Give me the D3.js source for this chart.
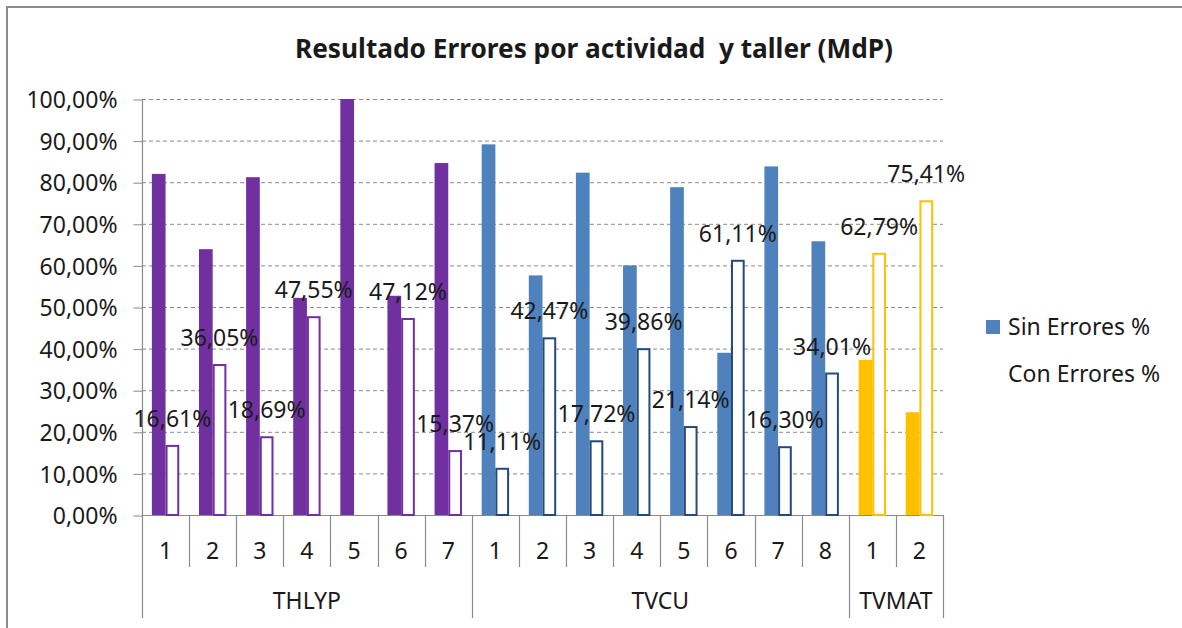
<!DOCTYPE html>
<html>
<head>
<meta charset="utf-8">
<script src="https://cdn.jsdelivr.net/npm/d3@7"></script>
<style>
  html, body { margin: 0; padding: 0; background: #fff; }
  svg { display: block; }
  text { font-family: "Noto Sans", "Open Sans", sans-serif; fill: #1a1a1a; }
</style>
</head>
<body>
<svg id="chart" width="1182" height="628"></svg>
<script>
// ---- Data ----
const groups = ["THLYP", "TVCU", "TVMAT"];
const activities = [
  ["1","2","3","4","5","6","7"],
  ["1","2","3","4","5","6","7","8"],
  ["1","2"]
];
const sinErrores = [
  [82.0, 63.9, 81.2, 52.2, 100.0, 52.7, 84.6],
  [89.1, 57.6, 82.3, 60.0, 78.8, 39.0, 83.8, 65.8],
  [37.3, 24.7]
];
const conErrores = [
  [16.61, 36.05, 18.69, 47.55, null, 47.12, 15.37],
  [11.11, 42.47, 17.72, 39.86, 21.14, 61.11, 16.30, 34.01],
  [62.79, 75.41]
];
const groupFill = ["#7030A0", "#4F81BD", "#FFC000"];
const groupStroke = ["#7030A0", "#244A7C", "#FFC000"];
const yTicks = [0,10,20,30,40,50,60,70,80,90,100];
const seriesNames = ["Sin Errores %", "Con Errores %"];
const title = "Resultado Errores por actividad  y taller (MdP)";

(function () {
// ---- Layout ----
const svg = d3.select("#chart");
const pLeft = 142, pRight = 943, pTop = 99, pBottom = 515;
const axisColor = "#8a8a8a";
const fs = "23px";

// flatten rows
const rows = [];
groups.forEach((g, gi) => {
  activities[gi].forEach((a, ai) => {
    rows.push({key: g + "-" + a, group: g, gi, act: a,
      sin: sinErrores[gi][ai], con: conErrores[gi][ai]});
  });
});

const x0 = d3.scaleBand().domain(rows.map(r => r.key)).range([pLeft, pRight]).paddingInner(0).paddingOuter(0);
const x1 = d3.scaleBand().domain(["sin","con"]).range([0, x0.bandwidth()]).paddingInner(0).paddingOuter(0.72);
const y = d3.scaleLinear().domain([0, 100]).range([pBottom, pTop]);

const fmt = v => d3.format(".2f")(v).replace(".", ",") + "%";

// chart border
svg.append("path")
  .attr("d", `M7,640 L7,7 L1200,7`)
  .attr("fill", "none").attr("stroke", "#8c8c8c").attr("stroke-width", 2);

// title
svg.append("text")
  .attr("x", 594).attr("y", 58)
  .attr("text-anchor", "middle")
  .style("font-size", "26px").style("font-weight", "bold")
  .style("white-space", "pre")
  .attr("textLength", 598).attr("lengthAdjust", "spacingAndGlyphs")
  .text(title);

// gridlines
svg.append("g").selectAll("line")
  .data(yTicks.filter(t => t > 0))
  .join("line")
  .attr("x1", pLeft).attr("x2", pRight)
  .attr("y1", d => y(d) + 0.5).attr("y2", d => y(d) + 0.5)
  .attr("stroke", "#8a8a8a").attr("stroke-width", 1)
  .attr("stroke-dasharray", "4,3");

// y axis
const yAxis = d3.axisLeft(y).tickValues(yTicks).tickSize(9).tickPadding(16)
  .tickFormat(d => fmt(d));
const gy = svg.append("g").attr("transform", `translate(${pLeft + 0.5},0.5)`).call(yAxis);
gy.select(".domain").remove();
gy.selectAll(".tick line").attr("stroke", axisColor);
gy.selectAll(".tick text").style("font-size", fs).attr("fill", "#1a1a1a")
  .attr("dy", "0.36em");
gy.attr("font-family", null).attr("font-size", null);

// vertical axis line extended down through category area
svg.append("line").attr("x1", pLeft + 0.5).attr("x2", pLeft + 0.5)
  .attr("y1", pTop).attr("y2", 618).attr("stroke", axisColor).attr("stroke-width", 1.2);

// x axis baseline
svg.append("line").attr("x1", pLeft).attr("x2", pRight)
  .attr("y1", pBottom + 0.5).attr("y2", pBottom + 0.5)
  .attr("stroke", axisColor).attr("stroke-width", 1.2);

// bars: Sin
const bars = svg.append("g");
bars.selectAll("rect.sin")
  .data(rows)
  .join("rect").attr("class", "sin")
  .attr("x", d => x0(d.key) + x1("sin"))
  .attr("width", x1.bandwidth())
  .attr("y", d => y(d.sin))
  .attr("height", d => y(0) - y(d.sin))
  .attr("fill", d => groupFill[d.gi]);

// bars: Con (outlined)
const conRows = rows.filter(d => d.con != null);
bars.selectAll("rect.con")
  .data(conRows)
  .join("rect").attr("class", "con")
  .attr("x", d => x0(d.key) + x1("con") + 1)
  .attr("width", x1.bandwidth() - 2)
  .attr("y", d => y(d.con))
  .attr("height", d => y(0) - y(d.con))
  .attr("fill", "#fff")
  .attr("stroke", d => groupStroke[d.gi])
  .attr("stroke-width", 2);

// data labels
svg.append("g").selectAll("text")
  .data(conRows)
  .join("text")
  .attr("x", d => x0(d.key) + x1("con") + x1.bandwidth() / 2)
  .attr("y", d => y(d.con) - 19)
  .attr("text-anchor", "middle")
  .style("font-size", fs)
  .text(d => fmt(d.con));

// category ticks and labels
const gx = svg.append("g");
const boundaries = [];
rows.forEach((r, i) => {
  if (i === 0) return;
  const isGroupStart = rows[i - 1].group !== r.group;
  boundaries.push({x: x0(r.key), long: isGroupStart});
});
boundaries.push({x: pRight, long: true});
gx.selectAll("line")
  .data(boundaries)
  .join("line")
  .attr("x1", d => Math.round(d.x) + 0.5).attr("x2", d => Math.round(d.x) + 0.5)
  .attr("y1", pBottom).attr("y2", d => d.long ? 618 : 567)
  .attr("stroke", axisColor).attr("stroke-width", 1.2);

gx.selectAll("text.cat")
  .data(rows)
  .join("text").attr("class", "cat")
  .attr("x", d => x0(d.key) + x0.bandwidth() / 2)
  .attr("y", 559)
  .attr("text-anchor", "middle")
  .style("font-size", fs)
  .text(d => d.act);

// group labels
gx.selectAll("text.grp")
  .data(groups)
  .join("text").attr("class", "grp")
  .attr("x", (g, gi) => {
    const ks = rows.filter(r => r.gi === gi);
    const a = x0(ks[0].key), b = x0(ks[ks.length - 1].key) + x0.bandwidth();
    return (a + b) / 2;
  })
  .attr("y", 609)
  .attr("text-anchor", "middle")
  .style("font-size", fs)
  .text(g => g);

// legend
const lg = svg.append("g");
lg.append("rect").attr("x", 986).attr("y", 320).attr("width", 14).attr("height", 14)
  .attr("fill", groupFill[1]);
lg.selectAll("text")
  .data(seriesNames)
  .join("text")
  .attr("x", 1008)
  .attr("y", (d, i) => i === 0 ? 335 : 382)
  .style("font-size", fs)
  .text(d => d);
})();
</script>
</body>
</html>
